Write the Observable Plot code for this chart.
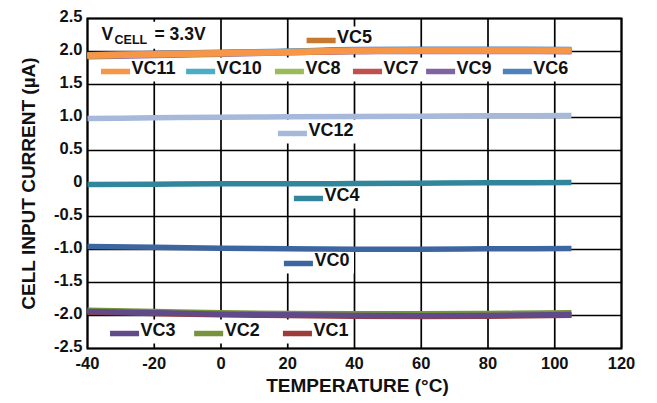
<!DOCTYPE html>
<html><head><meta charset="utf-8">
<script src="https://cdn.jsdelivr.net/npm/d3@7"></script>
<script src="https://cdn.jsdelivr.net/npm/@observablehq/plot@0.6"></script>
<style>html,body{margin:0;padding:0;background:#fff;}</style>
</head><body><div id="chart"></div>
<script>
// Temperature points (°C)
const temperature = [-40, -20, 0, 20, 40, 60, 80, 105];
// Cell input current (µA) per channel
const vc11 = [1.94, 1.96, 1.975, 1.99, 2.01, 2.015, 2.015, 2.015];
const vc10 = [1.94, 1.96, 1.98, 2.0, 2.02, 2.025, 2.025, 2.02];
const vc8  = [1.93, 1.95, 1.97, 1.99, 2.01, 2.01, 2.01, 2.01];
const vc7  = [1.93, 1.95, 1.97, 1.99, 2.0, 2.01, 2.01, 2.0];
const vc9  = [1.92, 1.94, 1.96, 1.98, 2.0, 2.0, 2.0, 2.0];
const vc6  = [1.95, 1.97, 1.99, 2.005, 2.03, 2.035, 2.035, 2.03];
const vc5  = [1.95, 1.97, 1.98, 2.0, 2.02, 2.025, 2.02, 2.02];
const vc12 = [0.985, 0.995, 1.005, 1.01, 1.015, 1.02, 1.025, 1.03];
const vc4  = [-0.015, -0.01, -0.005, -0.005, 0, 0.005, 0.01, 0.015];
const vc0  = [-0.955, -0.965, -0.98, -0.99, -0.995, -0.995, -0.99, -0.985];
const vc3  = [-1.94, -1.96, -1.98, -1.99, -2.0, -2.005, -2.0, -1.985];
const vc2  = [-1.92, -1.94, -1.96, -1.97, -1.975, -1.975, -1.97, -1.96];
const vc1  = [-1.95, -1.97, -1.99, -2.0, -2.01, -2.015, -2.01, -1.995];

// Draw order (last on top)
const seriesNames  = ["VC5", "VC6", "VC9", "VC7", "VC8", "VC10", "VC11", "VC12", "VC4", "VC0", "VC1", "VC2", "VC3"];
const seriesValues = [vc5, vc6, vc9, vc7, vc8, vc10, vc11, vc12, vc4, vc0, vc1, vc2, vc3];
const colorOf = {
  VC5: "#C9782F", VC11: "#F79646", VC10: "#4BACC6", VC8: "#9BBB59", VC7: "#C0504D",
  VC9: "#8064A2", VC6: "#4F81BD", VC12: "#A6B9DA", VC4: "#31869B", VC0: "#3D66A1",
  VC3: "#604A8A", VC2: "#77933C", VC1: "#9C3B37"
};

const xTicks = [-40, -20, 0, 20, 40, 60, 80, 100, 120];
const yTicks = [-2.5, -2.0, -1.5, -1.0, -0.5, 0, 0.5, 1.0, 1.5, 2.0, 2.5];

// Inline legend labels, anchored in data units (temperature, current)
const legendNames   = ["VC5", "VC11", "VC10", "VC8", "VC7", "VC9", "VC6", "VC12", "VC4", "VC0", "VC3", "VC2", "VC1"];
const legendTemp    = [25.8, -35.8, -10.3, 16.3, 39.7, 61.6, 84.6, 17.2, 22.0, 19.0, -33.1, -7.9, 18.7];
const legendCurrent = [2.167, 1.697, 1.697, 1.697, 1.697, 1.697, 1.697, 0.758, -0.227, -1.212, -2.273, -2.273, -2.273];
const conditionLabel = {temp: -35.8, current: 2.26};

const rows = [];
seriesNames.forEach((name, i) => {
  temperature.forEach((t, j) => rows.push({series: name, t, v: seriesValues[i][j]}));
});
const legend = legendNames.map((name, i) => ({name, t: legendTemp[i], v: legendCurrent[i], color: colorOf[name]}));
const swatchSpan = 8.7;
const pxPerUnit = (657 - 87 - 36) / 160;
const labelPx = name => name.length === 3 ? 36 : 46;
const boxEnd = d => d.t + swatchSpan + (labelPx(d.name) + 5) / pxPerUnit;

const fmtY = d => d === 0 ? "0" : d.toFixed(1);
const font = "'Liberation Sans', Arial, Helvetica, sans-serif";

const lineMarks = seriesNames.map(name =>
  Plot.line(rows.filter(r => r.series === name), {
    x: "t", y: "v", stroke: colorOf[name],
    strokeWidth: name === "VC11" ? 6.5 : 5.5,
    strokeLinecap: "butt", strokeLinejoin: "round", curve: "monotone-x"
  })
);

const chart = Plot.plot({
  width: 657, height: 403,
  marginLeft: 87, marginRight: 36, marginTop: 18, marginBottom: 55,
  x: {domain: [-40, 120], label: null},
  y: {domain: [-2.5, 2.5], label: null},
  style: {fontFamily: font, fontWeight: "bold", fontSize: "16.5px", color: "#111", background: "#fff", overflow: "visible"},
  marks: [
    Plot.gridX(xTicks, {stroke: "#000", strokeOpacity: 1, strokeWidth: 1.7}),
    Plot.gridY(yTicks, {stroke: "#000", strokeOpacity: 1, strokeWidth: 1.7}),
    // white boxes behind the inline labels
    Plot.ruleY(legend, {y: "v", x1: d => d.t - 0.6, x2: boxEnd, stroke: "#fff", strokeWidth: 24, dy: -2}),
    Plot.ruleY([conditionLabel], {y: "current", x1: d => d.temp - 1, x2: d => d.temp + 31.5, stroke: "#fff", strokeWidth: 27, dy: 1}),
    Plot.frame({stroke: "#000", strokeWidth: 2}),
    Plot.axisX(xTicks, {tickSize: 0, tickPadding: 9, label: null, tickFormat: d => String(d), fill: "#111"}),
    Plot.axisY(yTicks, {tickSize: 0, tickPadding: 5, dy: -2, label: null, tickFormat: fmtY, fill: "#111"}),
    ...lineMarks,
    // legend swatches and labels
    Plot.ruleY(legend, {y: "v", x1: "t", x2: d => d.t + swatchSpan, stroke: "color", strokeWidth: 5.5}),
    Plot.text(legend, {x: "t", y: "v", text: "name", textAnchor: "start", dx: 30, dy: -3, fontSize: 18, fill: "#111"}),
    Plot.text([conditionLabel], {x: "temp", y: "current", text: () => "V", textAnchor: "start", fontSize: 17.5, fill: "#111"}),
    Plot.text([conditionLabel], {x: "temp", y: "current", text: () => "CELL", textAnchor: "start", dx: 13, dy: 5.5, fontSize: 12.5, fill: "#111"}),
    Plot.text([conditionLabel], {x: "temp", y: "current", text: () => "= 3.3V", textAnchor: "start", dx: 53, fontSize: 17.5, fill: "#111"}),
    // axis titles
    Plot.text(["TEMPERATURE (°C)"], {frameAnchor: "bottom", text: d => d, textAnchor: "middle", lineAnchor: "middle", dx: 3, dy: 37, fontSize: 19, fill: "#111"}),
    Plot.text(["CELL INPUT CURRENT (µA)"], {frameAnchor: "left", text: d => d, textAnchor: "middle", lineAnchor: "middle", rotate: -90, dx: -59, fontSize: 19, fill: "#111"})
  ]
});
document.getElementById("chart").append(chart);
</script>
</body></html>
